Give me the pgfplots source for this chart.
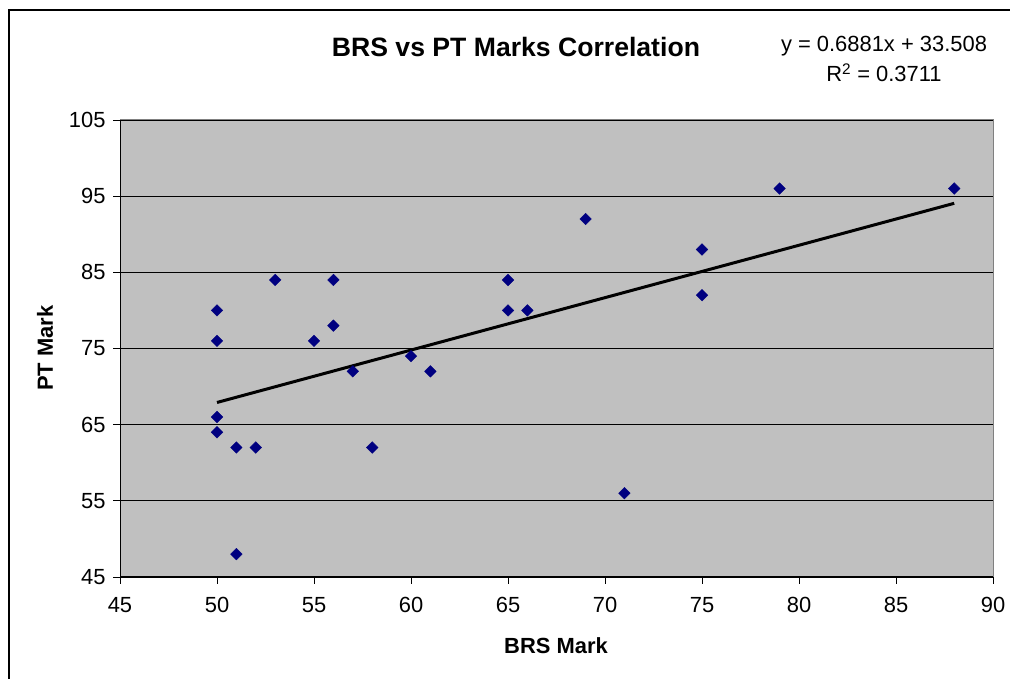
\documentclass[border=0pt]{standalone}
\usepackage{fontspec}
\setmainfont{Liberation Sans}
\usepackage{pgfplots}
\pgfplotsset{compat=1.18}
\definecolor{plotgray}{HTML}{C0C0C0}
\definecolor{bordergray}{HTML}{808080}
\definecolor{navy}{HTML}{000080}
\pgfplotstableread{
x y
50 80
50 76
50 66
50 64
51 62
51 48
52 62
53 84
55 76
56 84
56 78
57 72
58 62
60 74
61 72
65 84
65 80
66 80
69 92
71 56
75 88
75 82
79 96
88 96
}\brsdata
\begin{document}
\begin{tikzpicture}[x=1bp,y=1bp]
\path[use as bounding box] (0,0) rectangle (1010,679);
\fill[white] (0,0) rectangle (1010,679);
\draw[line width=1.5bp] (9,-5) -- (9,669) -- (1015,669);
\begin{axis}[
  at={(120bp,102bp)}, anchor=south west,
  scale only axis, width=873bp, height=457bp,
  xmin=45, xmax=90, ymin=45, ymax=105,
  xtick={45,50,...,90}, ytick={45,55,...,105},
  xtick pos=bottom, ytick pos=left,
  axis background/.style={fill=plotgray},
  axis line style={draw=bordergray, line width=1bp},
  ymajorgrids, grid style={black, line width=0.9bp},
  tick style={black, line width=0.9bp},
  tick align=outside, major tick length=7bp,
  /pgf/number format/assume math mode=true,
  ticklabel style={font=\fontsize{22}{26}\selectfont},
  xticklabel style={yshift=-10bp},
  yticklabel style={xshift=-4bp},
  clip=false,
]
\draw[black, line width=1bp] (rel axis cs:0,1) -- (rel axis cs:0,0) -- (rel axis cs:1,0);
\addplot[only marks, mark=square*, mark size=4.1bp, mark options={rotate=45, fill=navy, draw=navy, line width=0.4bp}] table[x=x,y=y] {\brsdata};
\addplot[black, line width=3bp, no marks] coordinates {(50,67.913) (88,94.0608)};
\end{axis}
\node[font=\bfseries\fontsize{26.7}{30}\selectfont] at (516,632) {BRS vs PT Marks Correlation};
\node[font=\bfseries\fontsize{22}{26}\selectfont] at (556,33) {BRS Mark};
\node[font=\bfseries\fontsize{22}{26}\selectfont, rotate=90] at (45,331) {PT Mark};
\node[font=\fontsize{22}{26}\selectfont, anchor=base] at (884,627) {y = 0.6881x + 33.508};
\node[font=\fontsize{22}{26}\selectfont, anchor=base] at (884,597) {R\textsuperscript{2} = 0.3711};
\end{tikzpicture}
\end{document}
